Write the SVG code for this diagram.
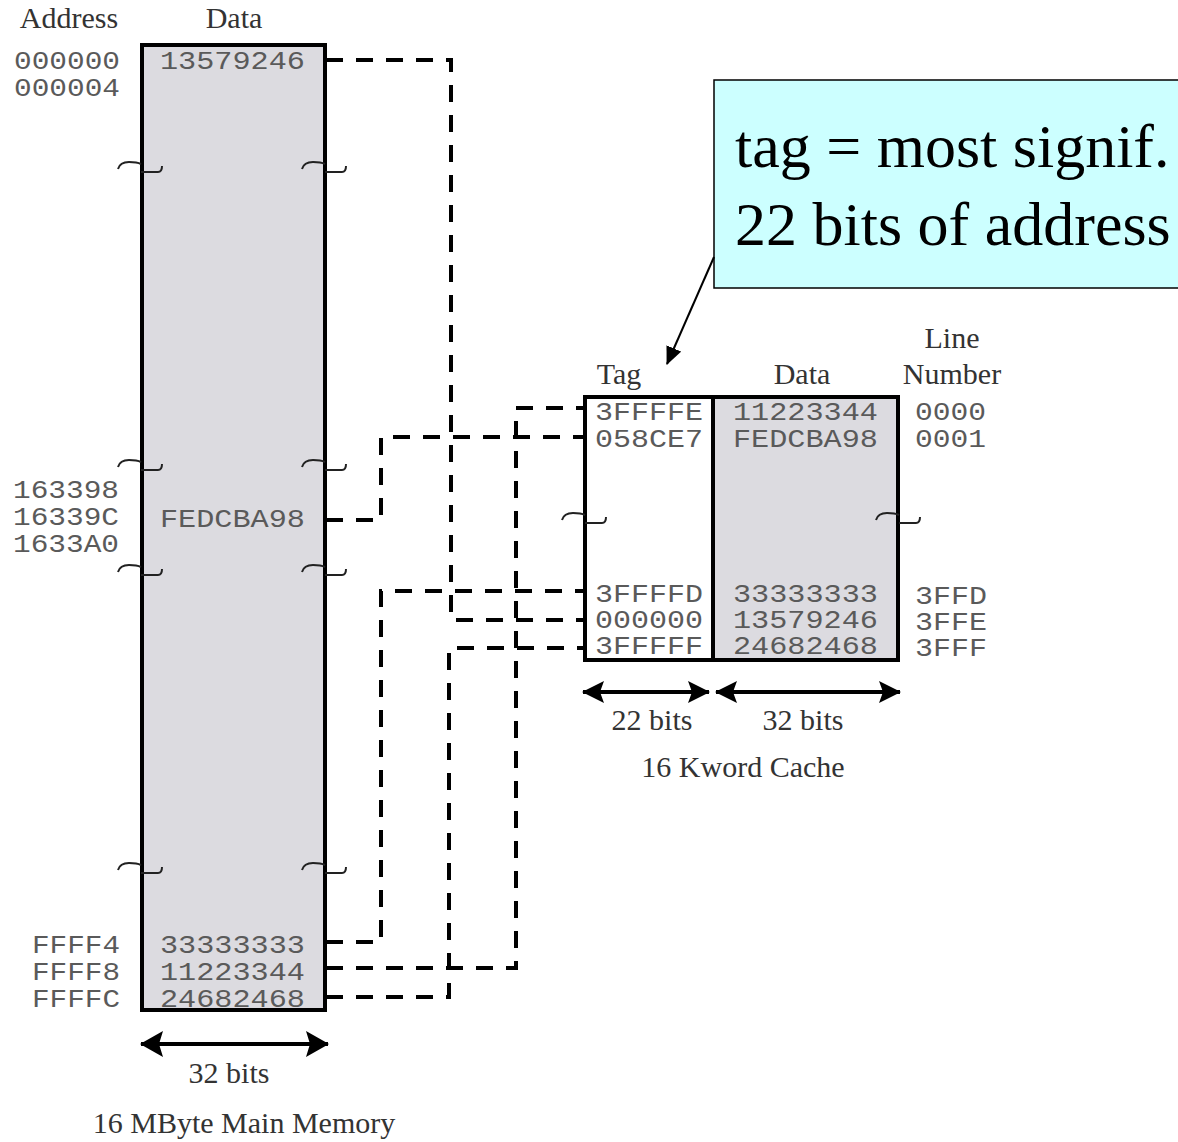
<svg xmlns="http://www.w3.org/2000/svg" width="1178" height="1142" viewBox="0 0 1178 1142">
<style>
.serif{font-family:"Liberation Serif","Times New Roman",serif;font-size:30px;fill:#333;text-anchor:middle}
.mono{font-family:"Liberation Mono","Courier New",monospace;font-size:26px;fill:#5a5a5a}
.box{stroke:#000;stroke-width:4}
.conn{fill:none;stroke:#000;stroke-width:4;stroke-dasharray:17 13}
.sq{fill:none;stroke:#222;stroke-width:2}
.dim{stroke:#000;stroke-width:4}
.callout-text{font-family:"Liberation Serif","Times New Roman",serif;font-size:62px;fill:#000}
</style>
<defs>
<marker id="headBig" viewBox="0 -13 23 26" refX="22" refY="0" markerWidth="23" markerHeight="26" markerUnits="userSpaceOnUse" orient="auto-start-reverse">
<path d="M0,-13 L23,0 L0,13 L4,0 z" fill="#000"/>
</marker>
<marker id="headSmall" viewBox="0 -11 22 22" refX="21" refY="0" markerWidth="22" markerHeight="22" markerUnits="userSpaceOnUse" orient="auto-start-reverse">
<path d="M0,-11 L22,0 L0,11 L4,0 z" fill="#000"/>
</marker>
<marker id="headCallout" viewBox="0 -8 18 16" refX="17" refY="0" markerWidth="18" markerHeight="16" markerUnits="userSpaceOnUse" orient="auto">
<path d="M0,-8 L18,0 L0,8 z" fill="#000"/>
</marker>
<g id="breakL">
<path class="sq" d="M-23,3 Q-21,-4 -12,-4 Q-4,-4 0,-2"/>
<path class="sq" d="M0,6 H17 Q21,6 21,0"/>
</g>
</defs>

<g id="connectors">
<path class="conn" d="M326,60 H451 V620 H585"/>
<path class="conn" d="M326,520 H381 V437 H585"/>
<path class="conn" d="M326,942 H381 V591 H585"/>
<path class="conn" d="M326,968 H516 V408 H585"/>
<path class="conn" d="M326,997 H449 V648 H585"/>
</g>

<g id="main-memory">
<text class="serif" x="69" y="28">Address</text>
<text class="serif" x="234" y="28">Data</text>
<rect class="box" x="142" y="45" width="183" height="965" fill="#dcdbe0"/>
<text class="mono" x="14" y="69" textLength="106" lengthAdjust="spacingAndGlyphs">000000</text>
<text class="mono" x="14" y="96" textLength="106" lengthAdjust="spacingAndGlyphs">000004</text>
<text class="mono" x="160" y="69" textLength="145" lengthAdjust="spacingAndGlyphs">13579246</text>
<text class="mono" x="13" y="498" textLength="106" lengthAdjust="spacingAndGlyphs">163398</text>
<text class="mono" x="13" y="525" textLength="106" lengthAdjust="spacingAndGlyphs">16339C</text>
<text class="mono" x="13" y="552" textLength="106" lengthAdjust="spacingAndGlyphs">1633A0</text>
<text class="mono" x="160" y="527" textLength="145" lengthAdjust="spacingAndGlyphs">FEDCBA98</text>
<text class="mono" x="32" y="953" textLength="88" lengthAdjust="spacingAndGlyphs">FFFF4</text>
<text class="mono" x="32" y="980" textLength="88" lengthAdjust="spacingAndGlyphs">FFFF8</text>
<text class="mono" x="32" y="1007" textLength="88" lengthAdjust="spacingAndGlyphs">FFFFC</text>
<text class="mono" x="160" y="953" textLength="145" lengthAdjust="spacingAndGlyphs">33333333</text>
<text class="mono" x="160" y="980" textLength="145" lengthAdjust="spacingAndGlyphs">11223344</text>
<text class="mono" x="160" y="1007" textLength="145" lengthAdjust="spacingAndGlyphs">24682468</text>
<use href="#breakL" x="141" y="166"/>
<use href="#breakL" x="325" y="166"/>
<use href="#breakL" x="141" y="464"/>
<use href="#breakL" x="325" y="464"/>
<use href="#breakL" x="141" y="569"/>
<use href="#breakL" x="325" y="569"/>
<use href="#breakL" x="141" y="867"/>
<use href="#breakL" x="325" y="867"/>
<line class="dim" x1="141" y1="1044" x2="328" y2="1044" marker-start="url(#headBig)" marker-end="url(#headBig)"/>
<text class="serif" x="229" y="1083">32 bits</text>
<text class="serif" x="244" y="1133">16 MByte Main Memory</text>
</g>

<g id="cache">
<text class="serif" x="619" y="384">Tag</text>
<text class="serif" x="802" y="384">Data</text>
<text class="serif" x="952" y="348">Line</text>
<text class="serif" x="952" y="384">Number</text>
<rect x="713" y="397" width="185" height="263" fill="#dcdbe0"/>
<rect class="box" x="585" y="397" width="313" height="263" fill="none"/>
<line class="box" x1="713" y1="397" x2="713" y2="660"/>
<text class="mono" x="595" y="420" textLength="108" lengthAdjust="spacingAndGlyphs">3FFFFE</text>
<text class="mono" x="595" y="447" textLength="108" lengthAdjust="spacingAndGlyphs">058CE7</text>
<text class="mono" x="595" y="602" textLength="108" lengthAdjust="spacingAndGlyphs">3FFFFD</text>
<text class="mono" x="595" y="628" textLength="108" lengthAdjust="spacingAndGlyphs">000000</text>
<text class="mono" x="595" y="654" textLength="108" lengthAdjust="spacingAndGlyphs">3FFFFF</text>
<text class="mono" x="733" y="420" textLength="145" lengthAdjust="spacingAndGlyphs">11223344</text>
<text class="mono" x="733" y="447" textLength="145" lengthAdjust="spacingAndGlyphs">FEDCBA98</text>
<text class="mono" x="733" y="602" textLength="145" lengthAdjust="spacingAndGlyphs">33333333</text>
<text class="mono" x="733" y="628" textLength="145" lengthAdjust="spacingAndGlyphs">13579246</text>
<text class="mono" x="733" y="654" textLength="145" lengthAdjust="spacingAndGlyphs">24682468</text>
<text class="mono" x="915" y="420" textLength="71" lengthAdjust="spacingAndGlyphs">0000</text>
<text class="mono" x="915" y="447" textLength="71" lengthAdjust="spacingAndGlyphs">0001</text>
<text class="mono" x="915" y="604" textLength="72" lengthAdjust="spacingAndGlyphs">3FFD</text>
<text class="mono" x="915" y="630" textLength="72" lengthAdjust="spacingAndGlyphs">3FFE</text>
<text class="mono" x="915" y="656" textLength="72" lengthAdjust="spacingAndGlyphs">3FFF</text>
<use href="#breakL" x="585" y="517"/>
<use href="#breakL" x="899" y="517"/>
<line class="dim" x1="583" y1="692" x2="709" y2="692" marker-start="url(#headSmall)" marker-end="url(#headSmall)"/>
<line class="dim" x1="716" y1="692" x2="900" y2="692" marker-start="url(#headSmall)" marker-end="url(#headSmall)"/>
<text class="serif" x="652" y="730">22 bits</text>
<text class="serif" x="803" y="730">32 bits</text>
<text class="serif" x="743" y="777">16 Kword Cache</text>
</g>

<g id="callout">
<rect x="714" y="80" width="480" height="208" fill="#ccffff" stroke="#000" stroke-width="1.5"/>
<text class="callout-text" x="735" y="167">tag = most signif.</text>
<text class="callout-text" x="735" y="245">22 bits of address</text>
<line x1="714" y1="257" x2="667" y2="364" stroke="#000" stroke-width="2" marker-end="url(#headCallout)"/>
</g>
</svg>
